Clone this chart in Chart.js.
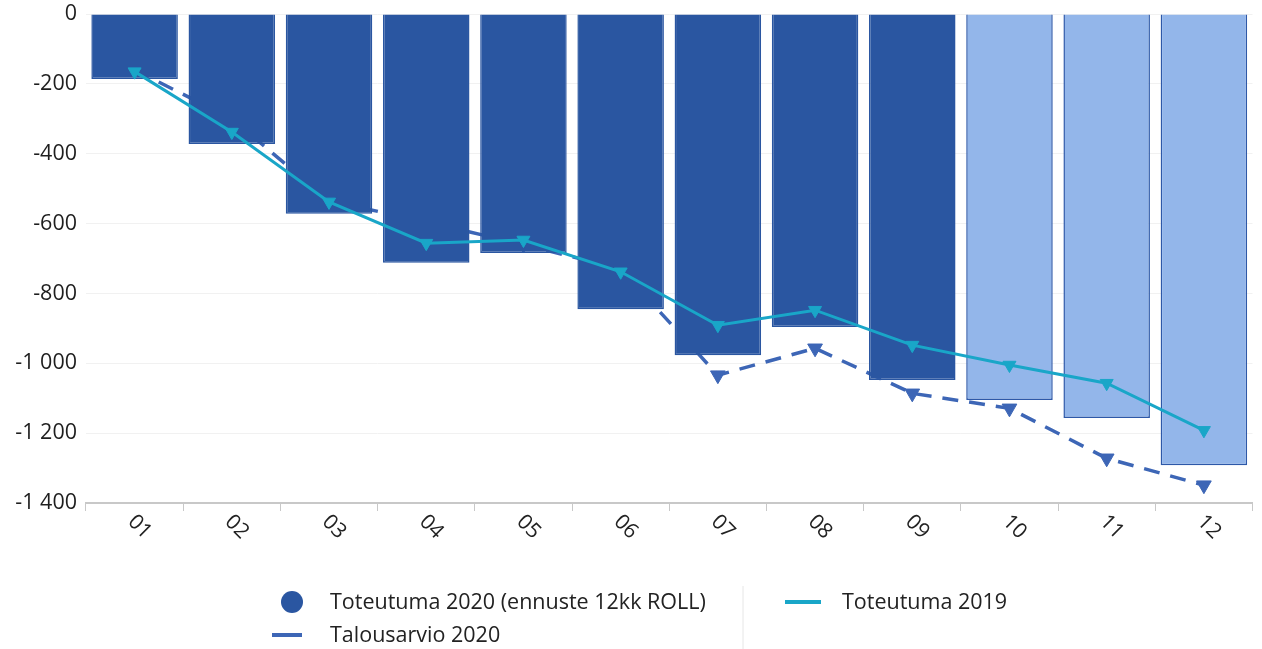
<!DOCTYPE html>
<html>
<head>
<meta charset="utf-8">
<script src="https://cdn.jsdelivr.net/npm/chart.js@4/dist/chart.umd.min.js"></script>
<style>
  html, body { margin: 0; padding: 0; background: #fff; }
  #wrap { width: 1262px; height: 649px; }
</style>
</head>
<body>
<div id="wrap"><canvas id="chart"></canvas></div>
<script>
const months = ["01", "02", "03", "04", "05", "06", "07", "08", "09", "10", "11", "12"];
// Toteutuma 2020, from month 10 on the bars are the 12kk ROLL forecast
const actual2020 = [-186, -372, -572, -712, -684, -845, -977, -896, -1048, -1105, -1157, -1292];
const budget2020 = [-160, -300, -535, -595, -660, -730, -1034, -957, -1086, -1129, -1272, -1349];
const actual2019 = [-165, -338, -538, -656, -647, -738, -891, -848, -948, -1005, -1057, -1192];
const forecastStart = 9;

const darkBlue = "#2a56a1";
const lightBlue = "#93b6ea";
const budgetBlue = "#3d66b6";
const cyan = "#19a6c8";
const fontFamily = "'Open Sans', 'Noto Sans', sans-serif";

const barColors = months.map((m, i) => (i >= forecastStart ? lightBlue : darkBlue));
const barBorders = months.map((m, i) => (i >= forecastStart ? "#2d58a8" : darkBlue));

function fmt(v) {
  const s = Math.abs(v).toString().replace(/\B(?=(\d{3})+(?!\d))/g, " ");
  return (v < 0 ? "-" : "") + s;
}

// x labels are rotated clockwise, and the legend is two columns with a divider
const customDraw = {
  id: "customDraw",
  afterDraw(chart) {
    const ctx = chart.ctx;
    const xs = chart.scales.x;
    ctx.save();
    ctx.font = "21px " + fontFamily;
    ctx.fillStyle = "#222";
    ctx.textAlign = "center";
    ctx.textBaseline = "middle";
    months.forEach((m, i) => {
      const x = xs.getPixelForTick(i);
      ctx.save();
      ctx.translate(x + 5, 527);
      ctx.rotate(Math.PI / 4);
      ctx.fillText(m, 0, 0);
      ctx.restore();
    });

    // legend
    ctx.textAlign = "left";
    ctx.font = "21.5px " + fontFamily;
    ctx.beginPath();
    ctx.fillStyle = darkBlue;
    ctx.arc(292, 602, 11, 0, Math.PI * 2);
    ctx.fill();
    ctx.fillStyle = "#222";
    ctx.fillText(chart.data.datasets[0].label, 330, 603);

    ctx.strokeStyle = budgetBlue;
    ctx.lineWidth = 4;
    ctx.beginPath();
    ctx.moveTo(272, 635);
    ctx.lineTo(302, 635);
    ctx.stroke();
    ctx.fillText(chart.data.datasets[2].label, 330, 636);

    ctx.strokeStyle = "#e6e6e6";
    ctx.lineWidth = 1;
    ctx.beginPath();
    ctx.moveTo(743, 586);
    ctx.lineTo(743, 649);
    ctx.stroke();

    ctx.strokeStyle = cyan;
    ctx.lineWidth = 4;
    ctx.beginPath();
    ctx.moveTo(785, 602);
    ctx.lineTo(821, 602);
    ctx.stroke();
    ctx.fillText(chart.data.datasets[1].label, 842, 603);
    ctx.restore();
  }
};

new Chart(document.getElementById("chart"), {
  type: "bar",
  data: {
    labels: months,
    datasets: [
      {
        label: "Toteutuma 2020 (ennuste 12kk ROLL)",
        data: actual2020,
        backgroundColor: barColors,
        borderColor: barBorders,
        borderWidth: 1.5,
        barPercentage: 0.89,
        categoryPercentage: 1,
        order: 1
      },
      {
        type: "line",
        label: "Toteutuma 2019",
        data: actual2019,
        borderColor: cyan,
        backgroundColor: cyan,
        borderWidth: 3,
        pointStyle: "triangle",
        rotation: 180,
        pointRadius: 7.5,
        pointBorderWidth: 1,
        tension: 0,
        order: 0
      },
      {
        type: "line",
        label: "Talousarvio 2020",
        data: budget2020,
        borderColor: budgetBlue,
        backgroundColor: budgetBlue,
        borderWidth: 3.5,
        borderDash: [16, 11],
        pointStyle: "triangle",
        rotation: 180,
        pointRadius: 8.5,
        pointBorderWidth: 1,
        tension: 0,
        order: 2
      }
    ]
  },
  options: {
    responsive: true,
    maintainAspectRatio: false,
    animation: false,
    layout: { padding: { top: 0, right: 6, left: 0, bottom: 0 } },
    plugins: {
      legend: { display: false },
      tooltip: { enabled: false }
    },
    scales: {
      x: {
        offset: true,
        grid: {
          offset: true,
          drawOnChartArea: false,
          drawTicks: true,
          tickLength: 8,
          color: "#c8c8c8"
        },
        border: { color: "#c8c8c8", width: 2 },
        ticks: { display: false },
        afterFit(scale) { scale.height = 146; }
      },
      y: {
        min: -1400,
        max: 0,
        ticks: {
          stepSize: 200,
          color: "#1e1e1e",
          padding: 9,
          font: { size: 21.5, family: fontFamily },
          callback: (v) => fmt(v)
        },
        grid: { color: "#f1f1f1", drawTicks: false },
        border: { display: false },
        afterFit(scale) {
          scale.width = 86;
          scale.paddingTop = 14;
          scale.paddingBottom = 0;
        }
      }
    }
  },
  plugins: [customDraw]
});
</script>
</body>
</html>
